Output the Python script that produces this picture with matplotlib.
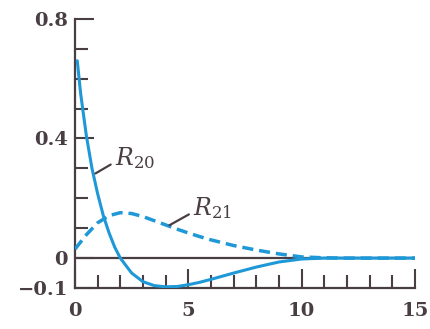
import matplotlib
matplotlib.use("Agg")
import matplotlib.pyplot as plt
from matplotlib.ticker import MultipleLocator, FixedLocator

# radius values (units of a0) and curve values
r20 = [0.1, 0.25, 0.5, 0.75, 1.0, 1.25, 1.5, 1.75, 2.0, 2.5, 3.0, 3.5, 4.0,
       4.5, 5.0, 5.5, 6.0, 7.0, 8.0, 9.0, 10.0, 11.0, 12.0, 13.0, 14.0, 15.0]
R20 = [0.66, 0.55, 0.41, 0.30, 0.215, 0.142, 0.085, 0.037, 0.0, -0.050,
       -0.079, -0.092, -0.096, -0.095, -0.089, -0.081, -0.071, -0.050,
       -0.030, -0.013, -0.003, 0.0, 0.0, 0.0, 0.0, 0.0]

r21 = [0.0, 0.5, 1.0, 1.5, 2.0, 2.5, 3.0, 3.5, 4.0, 4.5, 5.0, 5.5, 6.0,
       7.0, 8.0, 9.0, 10.0, 11.0, 12.0, 13.0, 14.0, 15.0]
R21 = [0.03, 0.078, 0.118, 0.142, 0.152, 0.149, 0.139, 0.125, 0.111, 0.097,
       0.084, 0.072, 0.061, 0.042, 0.027, 0.014, 0.004, 0.001, 0.0, 0.0, 0.0, 0.0]

y_ticks = [-0.1, 0.0, 0.4, 0.8]
y_labels = ["\u22120.1", "0", "0.4", "0.8"]
x_ticks = [0, 5, 10, 15]

blue = "#1e98d6"
dark = "#483e43"

plt.rcParams["mathtext.fontset"] = "dejavuserif"

fig = plt.figure(figsize=(4.3, 3.29), dpi=100)
ax = fig.add_axes([0.1744, 0.1246, 0.7906, 0.818])

ax.axhline(0, color=dark, lw=1.6, zorder=1)
ax.plot(r20, R20, color=blue, lw=2.2, solid_capstyle="round", zorder=3)
ax.plot(r21, R21, color=blue, lw=2.5, ls=(0, (3.2, 1.7)), zorder=3)

ax.set_xlim(0, 15)
ax.set_ylim(-0.1, 0.8)
for s in ("top", "right"):
    ax.spines[s].set_visible(False)
for s in ("left", "bottom"):
    ax.spines[s].set_color(dark)
    ax.spines[s].set_linewidth(1.6)

ax.xaxis.set_major_locator(FixedLocator(x_ticks))
ax.xaxis.set_minor_locator(MultipleLocator(1))
ax.yaxis.set_major_locator(FixedLocator(y_ticks))
ax.yaxis.set_minor_locator(MultipleLocator(0.1))
ax.set_yticklabels(y_labels)

ax.tick_params(which="both", direction="in", color=dark, width=1.5,
               labelcolor=dark)
ax.tick_params(which="major", length=14)
ax.tick_params(which="minor", length=9.5)
ax.tick_params(axis="x", which="major", pad=10)
ax.tick_params(axis="y", which="major", pad=5)
for lab in ax.get_xticklabels() + ax.get_yticklabels():
    lab.set_family("DejaVu Serif")
    lab.set_weight("bold")
    lab.set_fontsize(14)

ax.annotate("$R_{20}$", xy=(0.9, 0.283), xytext=(1.75, 0.31),
            fontsize=17, color=dark, va="baseline",
            arrowprops=dict(arrowstyle="-", color=dark, lw=1.6,
                            shrinkA=1, shrinkB=0, relpos=(0, 0.35)))
ax.annotate("$R_{21}$", xy=(4.17, 0.11), xytext=(5.2, 0.143),
            fontsize=17, color=dark, va="baseline",
            arrowprops=dict(arrowstyle="-", color=dark, lw=1.6,
                            shrinkA=1, shrinkB=0, relpos=(0, 0.35)))

fig.savefig("out.png", dpi=100)
